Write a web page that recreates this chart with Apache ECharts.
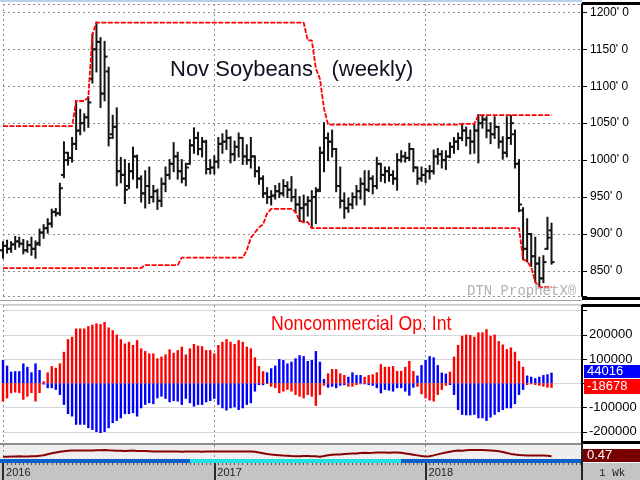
<!DOCTYPE html>
<html>
<head>
<meta charset="utf-8">
<script src="https://cdn.jsdelivr.net/npm/echarts@6.0.0/dist/echarts.min.js"></script>
<style>
html,body{margin:0;padding:0;background:#ffffff;}
#chart{width:640px;height:480px;}
</style>
</head>
<body>
<div id="chart"></div>
<script>
// Weekly bars, index 0 = first week of 2016
const yearLabels = ['2016', '2017', '2018'];
const yearStartWeek = [0, 52, 104];

const opens = [878,884,880,886,890,887,878,885,880,888,
 902,908,914,930,928,980,1000,1003,1022,1040,
 1050,1058,1110,1150,1160,1090,1120,1035,1045,985,
 980,965,985,1005,975,955,965,950,958,945,
 968,980,995,1005,985,975,995,1020,1030,1015,
 1025,988,990,998,1022,1025,1030,1008,1018,1030,
 1005,1000,1005,985,975,955,950,952,958,955,
 965,960,950,940,935,940,945,950,960,1010,
 1030,1025,1015,965,945,935,940,950,958,968,
 960,975,965,995,980,985,980,975,1000,1005,
 1003,1015,990,975,980,985,985,1005,1008,1000,
 1005,1018,1025,1030,1040,1030,1025,1040,1050,1055,
 1040,1035,1045,1025,1010,1030,1035,995,932,880,
 900,870,860,840,880,905];
const highs = [889,891,889,896,895,892,890,895,890,906,
 912,920,933,934,968,1024,1010,1030,1080,1068,
 1062,1085,1170,1186,1165,1160,1125,1060,1070,1003,
 1000,995,1017,1006,978,985,990,965,960,975,
 990,1000,1023,1010,1000,995,1027,1043,1037,1030,
 1026,1000,1005,1030,1035,1040,1031,1025,1036,1030,
 1020,1030,1005,990,978,962,958,965,968,973,
 970,977,960,950,952,950,958,962,1017,1050,
 1036,1040,1015,990,955,948,955,965,975,985,
 985,978,1003,995,990,990,985,1008,1012,1010,
 1022,1015,990,990,988,992,1013,1015,1012,1012,
 1023,1030,1036,1049,1044,1040,1048,1061,1060,1058,
 1050,1058,1045,1031,1058,1060,1040,1000,935,920,
 900,895,868,870,922,914];
const lows = [868,875,876,880,883,874,876,872,868,885,
 895,902,910,925,926,977,994,998,1015,1035,
 1040,1045,1105,1120,1072,1081,1020,1030,966,970,
 942,962,975,963,944,936,942,944,934,938,
 958,975,985,975,970,966,995,1010,1008,1005,
 982,982,982,990,1010,1015,997,1000,1005,995,
 995,990,978,968,950,942,940,948,950,952,
 950,945,930,918,916,925,909,915,958,985,
 1000,1005,958,936,922,930,935,940,948,940,
 958,955,962,972,970,972,968,960,998,998,
 1000,985,968,972,970,975,982,995,990,988,
 1004,1010,1015,1027,1020,1009,1010,997,1044,1031,
 1023,1030,1017,1002,1005,1022,990,931,866,863,
 857,836,828,835,880,860];
const closes = [884,880,886,890,887,878,885,880,886,902,
 908,914,930,928,962,1010,1003,1022,1040,1050,
 1058,1078,1150,1160,1090,1140,1030,1045,985,980,
 960,985,1005,975,955,965,950,958,945,968,
 980,995,1005,985,975,990,1020,1030,1015,1025,
 988,990,998,1022,1025,1030,1008,1018,1030,1005,
 1000,1005,985,975,955,950,952,958,955,965,
 960,950,940,935,940,945,950,958,1010,1030,
 1025,1015,965,945,935,940,950,958,968,960,
 975,965,995,980,985,980,975,1000,1005,1003,
 1015,990,975,980,985,985,1005,1008,1000,1005,
 1018,1025,1030,1040,1030,1025,1040,1050,1055,1040,
 1035,1045,1025,1010,1030,1050,995,940,880,900,
 870,860,840,862,895,862];

// 52-week channel
const channelHigh = [1046,1046,1046,1046,1046,1046,1046,1046,1046,1046,
 1046,1046,1046,1046,1046,1046,1046,1046,1080,1080,
 1080,1085,1170,1186,1186,1186,1186,1186,1186,1186,
 1186,1186,1186,1186,1186,1186,1186,1186,1186,1186,
 1186,1186,1186,1186,1186,1186,1186,1186,1186,1186,
 1186,1186,1186,1186,1186,1186,1186,1186,1186,1186,
 1186,1186,1186,1186,1186,1186,1186,1186,1186,1186,
 1186,1186,1186,1186,1186,1162,1162,1124,1110,1070,
 1048,1048,1048,1048,1048,1048,1048,1048,1048,1048,
 1048,1048,1048,1048,1048,1048,1048,1048,1048,1048,
 1048,1048,1048,1048,1048,1048,1048,1048,1048,1048,
 1048,1048,1048,1049,1049,1049,1049,1061,1061,1061,
 1061,1061,1061,1061,1061,1061,1061,1061,1061,1061,
 1061,1061,1061,1061,1061,1061];
const channelLow = [854,854,854,854,854,854,854,854,854,854,
 854,854,854,854,854,854,854,854,854,854,
 854,854,854,854,854,854,854,854,854,854,
 854,854,854,854,854,858,858,858,858,858,
 858,858,858,858,868,868,868,868,868,868,
 868,868,868,868,868,868,868,868,868,868,
 878,895,902,909,913,928,934,934,934,934,
 934,934,930,918,916,916,908,908,908,908,
 908,908,908,908,908,908,908,908,908,908,
 908,908,908,908,908,908,908,908,908,908,
 908,908,908,908,908,908,908,908,908,908,
 908,908,908,908,908,908,908,908,908,908,
 908,908,908,908,908,908,908,908,866,863,
 855,835,828,828,828,828];

// Noncommercial open interest bars
const blueOI = [96000,73000,48000,50000,50000,82000,68000,45000,82000,55000,
 -5000,-20000,-20000,-27000,-48000,-89000,-127000,-137000,-171000,-171000,
 -171000,-185000,-192000,-201000,-205000,-201000,-185000,-164000,-155000,-144000,
 -127000,-127000,-123000,-137000,-103000,-89000,-82000,-86000,-62000,-55000,
 -64000,-78000,-73000,-75000,-89000,-64000,-82000,-96000,-89000,-89000,
 -78000,-73000,-64000,-89000,-103000,-112000,-103000,-99000,-110000,-103000,
 -89000,-82000,-34000,-7000,-8000,45000,62000,73000,100000,96000,
 82000,89000,103000,116000,112000,92000,96000,133000,89000,18000,
 -18000,-14000,-20000,-10000,-8000,27000,45000,34000,34000,-4000,
 -7000,-10000,-20000,-41000,-27000,-30000,-34000,-20000,-20000,-34000,
 -51000,-18000,32000,75000,96000,112000,107000,75000,44000,40000,
 -7000,-48000,-110000,-130000,-132000,-132000,-130000,-144000,-144000,-155000,
 -141000,-130000,-119000,-110000,-103000,-103000,-86000,-48000,-27000,32000,
 27000,21000,27000,34000,37000,44016];
const redOI = [-75000,-62000,-41000,-38000,-40000,-68000,-55000,-40000,-75000,-40000,
 8000,45000,71000,64000,82000,130000,182000,192000,226000,226000,
 226000,236000,242000,247000,244000,253000,230000,219000,201000,182000,
 164000,171000,158000,178000,144000,133000,123000,123000,103000,110000,
 119000,140000,126000,137000,151000,119000,144000,162000,155000,153000,
 137000,137000,123000,158000,171000,182000,171000,162000,178000,171000,
 151000,144000,107000,71000,50000,-3000,-14000,-20000,-41000,-34000,
 -27000,-34000,-48000,-55000,-62000,-48000,-55000,-93000,-48000,-10000,
 41000,59000,59000,41000,34000,-14000,-14000,-7000,-4000,27000,
 34000,37000,45000,79000,68000,68000,71000,51000,51000,68000,
 92000,51000,-14000,-45000,-62000,-71000,-75000,-48000,-27000,-10000,
 48000,110000,158000,196000,201000,199000,192000,210000,210000,223000,
 196000,201000,174000,160000,141000,148000,130000,92000,68000,-7000,
 -4000,-7000,-10000,-14000,-18000,-18678];

// lower study line
const studyLine = [0.44,0.44,0.45,0.45,0.46,0.45,0.45,0.46,0.47,0.49,
 0.53,0.59,0.65,0.70,0.74,0.77,0.80,0.81,0.81,0.81,
 0.82,0.82,0.82,0.83,0.83,0.85,0.83,0.82,0.80,0.80,
 0.79,0.80,0.81,0.79,0.78,0.78,0.77,0.76,0.76,0.76,
 0.76,0.75,0.75,0.75,0.74,0.75,0.76,0.76,0.75,0.74,
 0.75,0.76,0.76,0.75,0.75,0.76,0.76,0.76,0.76,0.76,
 0.76,0.76,0.74,0.70,0.65,0.60,0.57,0.55,0.53,0.51,
 0.50,0.48,0.47,0.47,0.48,0.48,0.47,0.46,0.44,0.48,
 0.53,0.56,0.57,0.57,0.60,0.62,0.64,0.64,0.66,0.68,
 0.67,0.68,0.70,0.69,0.69,0.68,0.69,0.70,0.68,0.64,
 0.60,0.56,0.52,0.48,0.45,0.47,0.52,0.58,0.64,0.70,
 0.74,0.78,0.81,0.80,0.83,0.84,0.84,0.84,0.84,0.83,
 0.82,0.80,0.77,0.72,0.66,0.61,0.57,0.54,0.53,0.52,
 0.52,0.52,0.51,0.51,0.50,0.47];

const oiAxisLabels = [200000, 100000, -100000, -200000];
const lastBlue = '44016', lastRed = '-18678', lastStudy = '0.47';

const weekIdx = opens.map((_, i) => i);
const FONT = "'Liberation Sans', Arial, sans-serif";

function renderOHLC(params, api) {
  const x = api.value(0);
  const pO = api.coord([x, api.value(1)]);
  const pC = api.coord([x, api.value(2)]);
  const pL = api.coord([x, api.value(3)]);
  const pH = api.coord([x, api.value(4)]);
  const st = {stroke: '#141414', lineWidth: 2};
  return {type: 'group', children: [
    {type: 'line', shape: {x1: pH[0], y1: pH[1] - 1, x2: pL[0], y2: pL[1] + 1}, style: st},
    {type: 'line', shape: {x1: pO[0] - 3, y1: pO[1], x2: pO[0], y2: pO[1]}, style: st},
    {type: 'line', shape: {x1: pC[0], y1: pC[1], x2: pC[0] + 3, y2: pC[1]}, style: st}
  ]};
}

const dotted = {color: '#8c8c8c', width: 1, type: [2, 3]};
function xAxisFor(g) {
  return {gridIndex: g, type: 'value', min: 0, max: 142.5, interval: 52,
    axisLine: {show: false, onZero: false}, axisTick: {show: false}, axisLabel: {show: false},
    splitLine: {show: true, lineStyle: dotted}};
}

const chart = echarts.init(document.getElementById('chart'), null, {renderer: 'canvas'});
chart.setOption({
  animation: false,
  backgroundColor: '#ffffff',
  grid: [
    {left: 3, right: 58, top: 4, height: 292, outerBoundsMode: 'none'},
    {left: 3, right: 58, top: 305, height: 138, outerBoundsMode: 'none'},
    {left: 3, right: 58, top: 445, height: 14, outerBoundsMode: 'none'},
    {left: 3, right: 58, top: 463, height: 17, outerBoundsMode: 'none'}
  ],
  xAxis: [
    xAxisFor(0), xAxisFor(1), xAxisFor(2),
    {gridIndex: 3, type: 'value', min: 0, max: 142.5, interval: 52, position: 'top',
     axisLine: {show: false, onZero: false},
     axisTick: {show: false, inside: true},
     minorTick: {show: true, splitNumber: 52, length: 2, lineStyle: {color: '#555555', width: 1}},
     axisLabel: {show: true, inside: true, margin: 4, align: 'left', verticalAlign: 'top',
       color: '#222222', fontSize: 11, fontFamily: FONT,
       formatter: v => { const k = yearStartWeek.indexOf(v); return k >= 0 ? ' ' + yearLabels[k] : ''; }},
     splitLine: {show: true, lineStyle: {color: '#2a2a2a', width: 2}}}
  ],
  yAxis: [
    {gridIndex: 0, type: 'value', position: 'right', min: 816.17, max: 1211.23, splitNumber: 8,
     axisLine: {show: true, onZero: false, lineStyle: {color: '#000000', width: 2}},
     axisTick: {show: true, length: 5, lineStyle: {color: '#000000'}},
     axisLabel: {color: '#000000', fontSize: 12, fontFamily: FONT, margin: 8,
       formatter: v => (Math.abs(v % 50) < 1e-6 && v >= 850 && v <= 1200) ? v + "' 0" : ''},
     splitLine: {show: true, lineStyle: dotted}},
    {gridIndex: 1, type: 'value', position: 'right', min: -246186, max: 322887, splitNumber: 5,
     axisLine: {show: true, onZero: false, lineStyle: {color: '#000000', width: 2}},
     axisTick: {show: true, length: 5, lineStyle: {color: '#000000'}},
     axisLabel: {color: '#000000', fontSize: 13, fontFamily: FONT, margin: 7,
       formatter: v => oiAxisLabels.indexOf(v) >= 0 ? String(v) : ''},
     splitLine: {show: true, lineStyle: {color: '#d6d6d6', width: 1}}},
    {gridIndex: 2, type: 'value', min: 0.3, max: 1.15, show: false, axisLine: {onZero: false}},
    {gridIndex: 3, type: 'value', min: 0, max: 1, show: false, axisLine: {onZero: false}}
  ],
  series: [
    {type: 'custom', xAxisIndex: 0, yAxisIndex: 0, renderItem: renderOHLC, clip: false,
     data: weekIdx.map(i => [i, opens[i], closes[i], lows[i], highs[i]]),
     encode: {x: 0, y: [1, 2, 3, 4]}, z: 3, silent: true},
    {type: 'line', xAxisIndex: 0, yAxisIndex: 0, symbol: 'none', silent: true, z: 4,
     data: weekIdx.map(i => [i, channelHigh[i]]),
     lineStyle: {color: '#ff0000', width: 1.8, type: [5, 1.5]}},
    {type: 'line', xAxisIndex: 0, yAxisIndex: 0, symbol: 'none', silent: true, z: 4,
     data: weekIdx.map(i => [i, channelLow[i]]),
     lineStyle: {color: '#ff0000', width: 1.8, type: [5, 1.5]}},
    {type: 'bar', xAxisIndex: 1, yAxisIndex: 1, barWidth: 2.4, barGap: '-100%', clip: false, silent: true,
     data: weekIdx.map(i => [i, blueOI[i]]), itemStyle: {color: '#0000ff'}},
    {type: 'bar', xAxisIndex: 1, yAxisIndex: 1, barWidth: 2.4, barGap: '-100%', clip: false, silent: true,
     data: weekIdx.map(i => [i, redOI[i]]), itemStyle: {color: '#ff0000'}},
    {type: 'line', xAxisIndex: 2, yAxisIndex: 2, symbol: 'none', silent: true, z: 5,
     data: weekIdx.map(i => [i, studyLine[i]]),
     lineStyle: {color: '#880000', width: 2}}
  ],
  graphic: {elements: [
    // backgrounds
    {type: 'rect', z: -10, shape: {x: 0, y: 445, width: 582, height: 14}, style: {fill: '#eeeeee'}},
    {type: 'rect', z: -10, shape: {x: 0, y: 463, width: 640, height: 17}, style: {fill: '#c4c4c4'}},
    // top strip
    {type: 'rect', z: 50, shape: {x: 0, y: 0, width: 582, height: 2}, style: {fill: '#b9cfe6'}},
    {type: 'rect', z: 50, shape: {x: 582, y: 2, width: 58, height: 3}, style: {fill: '#000000'}},
    // separators
    {type: 'rect', z: 50, shape: {x: 0, y: 298, width: 582, height: 7}, style: {fill: '#ffffff'}},
    {type: 'line', z: 51, shape: {x1: 0, y1: 300.5, x2: 582, y2: 300.5}, style: {stroke: '#a0a0a0', lineWidth: 1}},
    {type: 'line', z: 51, shape: {x1: 0, y1: 304.5, x2: 582, y2: 304.5}, style: {stroke: '#cccccc', lineWidth: 1}},
    {type: 'rect', z: 51, shape: {x: 582, y: 297, width: 58, height: 3}, style: {fill: '#000000'}},
    {type: 'rect', z: 51, shape: {x: 582, y: 304, width: 58, height: 3}, style: {fill: '#000000'}},
    {type: 'rect', z: 51, shape: {x: 0, y: 443, width: 582, height: 2}, style: {fill: '#8c8c8c'}},
    {type: 'rect', z: 51, shape: {x: 582, y: 441, width: 58, height: 3}, style: {fill: '#000000'}},
    {type: 'line', z: 51, shape: {x1: 582, y1: 443, x2: 582, y2: 480}, style: {stroke: '#222222', lineWidth: 2}},
    // colour band
    {type: 'rect', z: 20, shape: {x: 0, y: 459, width: 190, height: 4}, style: {fill: '#0a5fc8'}},
    {type: 'rect', z: 20, shape: {x: 190, y: 459, width: 211, height: 4}, style: {fill: '#1ee0e0'}},
    {type: 'rect', z: 20, shape: {x: 401, y: 459, width: 181, height: 4}, style: {fill: '#0a5fc8'}},
    // titles
    {type: 'text', z: 60, style: {text: 'Nov Soybeans   (weekly)', x: 170, y: 70, fill: '#111122',
      font: "22px 'Liberation Sans', Arial, sans-serif", verticalAlign: 'middle', align: 'left'}},
    {type: 'text', z: 60, x: 271, y: 324, scaleX: 0.84, scaleY: 1,
      style: {text: 'Noncommercial Op. Int', x: 0, y: 0, fill: '#ff0000',
      font: "21px 'Liberation Sans', Arial, sans-serif", verticalAlign: 'middle', align: 'left'}},
    {type: 'text', z: 60, style: {text: 'DTN ProphetX®', x: 467, y: 291, fill: '#b0b0b0',
      font: "14px 'Liberation Mono', monospace", verticalAlign: 'middle', align: 'left'}},
    // value tags
    {type: 'rect', z: 60, shape: {x: 584, y: 365, width: 56, height: 13}, style: {fill: '#0000ff'}},
    {type: 'text', z: 61, style: {text: lastBlue, x: 587, y: 371.5, fill: '#ffffff',
      font: "13px 'Liberation Sans', Arial, sans-serif", verticalAlign: 'middle'}},
    {type: 'rect', z: 60, shape: {x: 584, y: 379, width: 56, height: 15}, style: {fill: '#ff0000'}},
    {type: 'text', z: 61, style: {text: lastRed, x: 587, y: 386.5, fill: '#ffffff',
      font: "13px 'Liberation Sans', Arial, sans-serif", verticalAlign: 'middle'}},
    {type: 'rect', z: 60, shape: {x: 583, y: 449, width: 57, height: 13}, style: {fill: '#7a0000'}},
    {type: 'text', z: 61, style: {text: lastStudy, x: 587, y: 455.5, fill: '#ffffff',
      font: "13px 'Liberation Sans', Arial, sans-serif", verticalAlign: 'middle'}},
    {type: 'text', z: 61, style: {text: '1 Wk', x: 599, y: 473, fill: '#222222',
      font: "11px 'Liberation Mono', monospace", verticalAlign: 'middle'}}
  ]}
});
</script>
</body>
</html>
